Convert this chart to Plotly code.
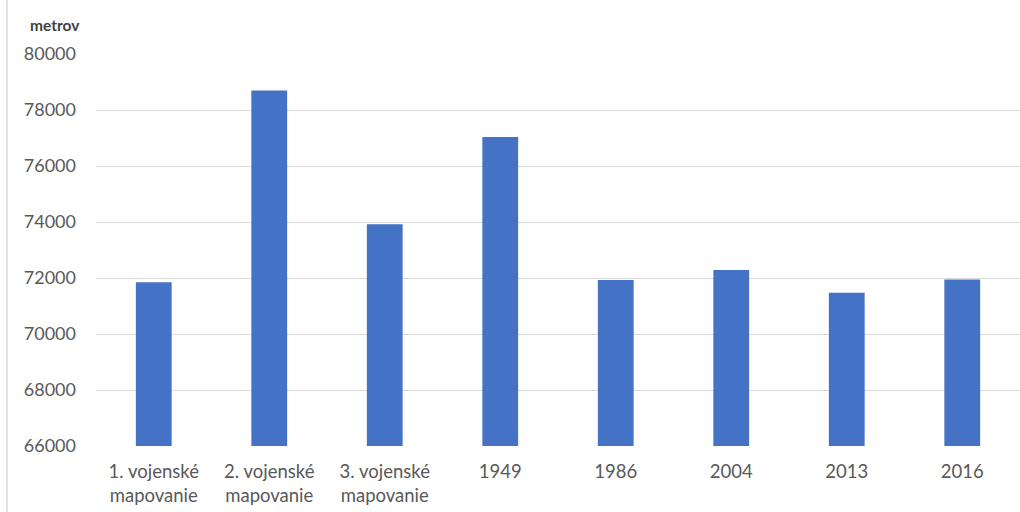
import plotly.graph_objects as go

# Data: length (in metres) per survey / year
categories = ["1. vojenské<br>mapovanie", "2. vojenské<br>mapovanie", "3. vojenské<br>mapovanie",
              "1949", "1986", "2004", "2013", "2016"]
lengths = [71850, 78700, 73920, 77040, 71930, 72290, 71475, 71950]
y_ticks = [66000, 68000, 70000, 72000, 74000, 76000, 78000, 80000]

W, H = 1020, 512
L, R, T, B = 96, 0, 54, 66
plot_w = W - L - R

fig = go.Figure(
    go.Bar(
        x=categories,
        y=lengths,
        marker=dict(color="#4472C4", line=dict(width=0)),
    )
)

font_family = "Lato, 'Open Sans', sans-serif"

fig.update_layout(
    width=W,
    height=H,
    margin=dict(l=L, r=R, t=T, b=B),
    plot_bgcolor="white",
    paper_bgcolor="white",
    bargap=0.69,
    showlegend=False,
    font=dict(family=font_family, color="#595959"),
    xaxis=dict(
        tickfont=dict(size=18.5, color="#595959"),
        showgrid=False,
        showline=False,
        ticks="",
        tickangle=0,
        ticklabelstandoff=12,
    ),
    yaxis=dict(
        range=[66000, 80000],
        tickvals=y_ticks,
        ticktext=[str(v) for v in y_ticks],
        tickfont=dict(size=18, color="#595959"),
        showgrid=True,
        gridcolor="#d9d9d9",
        gridwidth=1,
        zeroline=False,
        showline=False,
        ticks="",
        ticklabelstandoff=19,
    ),
    annotations=[
        dict(
            text="<b>metrov</b>",
            xref="paper", yref="paper",
            x=(82 - L) / plot_w, y=1 + (T - 25) / (H - T - B),
            xanchor="right", yanchor="middle",
            showarrow=False,
            font=dict(size=15.5, color="#404040", family=font_family),
        )
    ],
    shapes=[
        dict(
            type="line", xref="paper", yref="paper",
            x0=(7 - L) / plot_w, x1=(7 - L) / plot_w,
            y0=-B / (H - T - B), y1=1 + T / (H - T - B),
            line=dict(color="#d9d9d9", width=1.5),
        )
    ],
)

fig.write_html("out.html")
